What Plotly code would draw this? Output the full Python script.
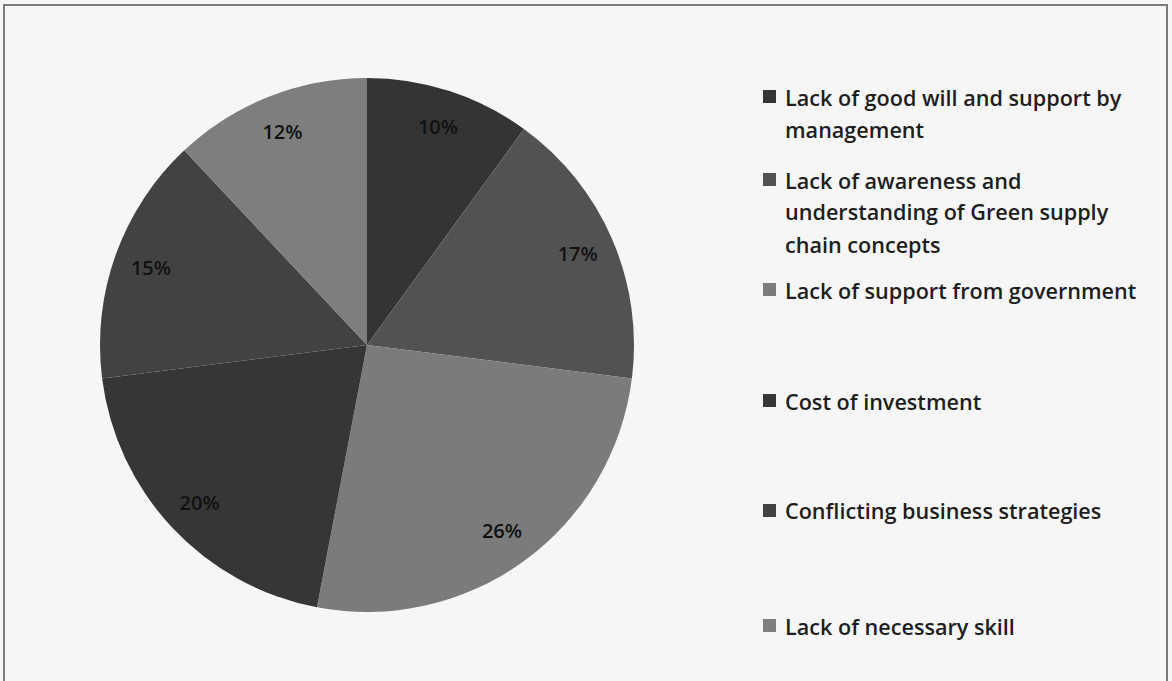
import plotly.graph_objects as go

labels = [
    "Lack of good will and support by\nmanagement",
    "Lack of awareness and\nunderstanding of Green supply\nchain concepts",
    "Lack of support from government",
    "Cost of investment",
    "Conflicting business strategies",
    "Lack of necessary skill",
]
values = [10, 17, 26, 20, 15, 12]
colors = ["#343434", "#525252", "#7b7b7b", "#363636", "#424242", "#7e7e7e"]

W, H = 1172, 681
FONT = "Open Sans"

# pie geometry (pixels)
cx, cy, r = 367, 345, 267
dom_x = [(cx - r) / W, (cx + r) / W]
dom_y = [1 - (cy + r) / H, 1 - (cy - r) / H]

fig = go.Figure()
fig.add_trace(go.Pie(
    labels=[l.replace("\n", " ") for l in labels], values=values,
    sort=False, direction="clockwise", rotation=0,
    marker=dict(colors=colors, line=dict(width=0)),
    textinfo="none", showlegend=False, domain=dict(x=dom_x, y=dom_y),
))
# transparent ring trace used only to place the percentage labels near the rim
fig.add_trace(go.Pie(
    labels=[l.replace("\n", " ") for l in labels], values=values,
    sort=False, direction="clockwise", rotation=0, hole=0.72,
    marker=dict(colors=["rgba(0,0,0,0)"] * len(values), line=dict(width=0)),
    textinfo="percent", textposition="inside", insidetextorientation="horizontal",
    textfont=dict(family=FONT, size=20, color="#111111", weight=600),
    hoverinfo="skip", showlegend=False, domain=dict(x=dom_x, y=dom_y),
))

# custom legend
item_tops = [97, 180, 290, 401, 511, 626]
line_h = 32
mk_x, txt_x = 763, 783
shapes = []
annotations = []
for lab, col, ty in zip(labels, colors, item_tops):
    lines = lab.split("\n")
    shapes.append(dict(type="rect", xref="paper", yref="paper",
                       x0=mk_x / W, x1=(mk_x + 13) / W,
                       y0=1 - (ty + 6) / H, y1=1 - (ty - 7) / H,
                       fillcolor=col, line=dict(width=0)))
    for i, ln in enumerate(lines):
        annotations.append(dict(xref="paper", yref="paper", x=txt_x / W,
                                y=1 - (ty + i * line_h) / H, text=ln,
                                showarrow=False, xanchor="left", yanchor="middle",
                                font=dict(family=FONT, size=21.6, color="#1e1e1e", weight=600)))

# outer frame
shapes.append(dict(type="rect", xref="paper", yref="paper",
                   x0=4 / W, x1=1167 / W, y0=-0.05, y1=1 - 5 / H,
                   line=dict(color="#7a7a7a", width=2), fillcolor="rgba(0,0,0,0)"))

fig.update_layout(
    width=W, height=H, margin=dict(l=0, r=0, t=0, b=0),
    paper_bgcolor="#f6f6f6", plot_bgcolor="#f6f6f6",
    shapes=shapes, annotations=annotations,
)
fig.write_html("out.html")
